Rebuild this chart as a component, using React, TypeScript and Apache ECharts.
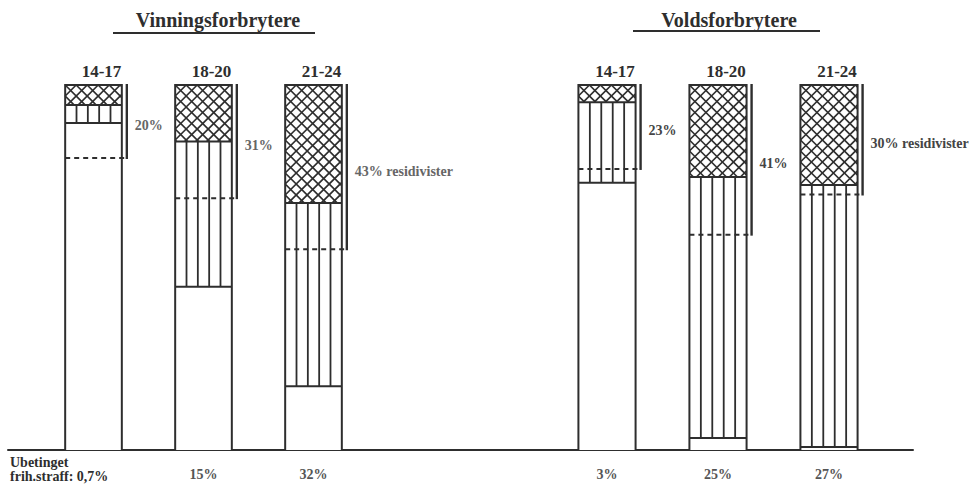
import React, { useEffect, useRef } from 'react';
import * as echarts from 'echarts';

// ---- data (percent of each bar, measured from the top of the bar) ----
const ageGroups = ['14-17', '18-20', '21-24'];

const vinningUbetinget = [5.5, 15.5, 32.3]; // cross-hatched part (top)
const vinningLined = [10.4, 55.3, 82.5]; // lower end of the vertically lined part
const vinningResidiv = [20, 31, 45]; // dashed recidivist level
const vinningResidivLabels = ['20%', '31%', '43% residivister'];
const vinningUbetLabels = ['0,7%', '15%', '32%'];

const voldsUbetinget = [4.7, 25.2, 27.4];
const voldsLined = [26.8, 96.7, 99.2];
const voldsResidiv = [23, 41, 30];
const voldsResidivLabels = ['23%', '41%', '30% residivister'];
const voldsUbetLabels = ['3%', '25%', '27%'];

const titles = ['Vinningsforbrytere', 'Voldsforbrytere'];
const ubetingetPrefix = ['Ubetinget', 'frih.straff:'];

const INK = '#2e2e2e';
const FONT = '"Liberation Serif", "DejaVu Serif", serif';

function makeRenderItem(labels: string[], labelColor: string) {
  return (params: any, api: any) => {
    const cat = api.value(0);
    const a = api.value(1);
    const b = api.value(2);
    const r = api.value(3);
    const pTop = api.coord([cat, 0]);
    const yA = api.coord([cat, a])[1];
    const yB = api.coord([cat, b])[1];
    const yBot = api.coord([cat, 100])[1];
    const yR = api.coord([cat, r])[1];
    const band = api.size([1, 0])[0];
    const bw = band * 0.515;
    const cx = pTop[0];
    const x0 = cx - bw / 2;
    const x1 = cx + bw / 2;
    const y0 = pTop[1];
    const gap = 5;
    const children: any[] = [];
    const line = (xa: number, ya: number, xb: number, yb: number, w = 2, dash?: number[]) => ({
      type: 'line',
      shape: { x1: xa, y1: ya, x2: xb, y2: yb },
      style: { stroke: INK, lineWidth: w, lineDash: dash },
    });
    children.push({ type: 'rect', shape: { x: x0, y: y0, width: bw, height: yBot - y0 }, style: { fill: '#fff' } });

    // cross-hatching in the top segment
    const d = 11;
    const kMax = Math.ceil((bw + (yA - y0)) / d) + 1;
    for (let k = -kMax; k <= kMax; k++) {
      // slope +1 : y = x + c
      const c1 = y0 - x0 + k * d;
      const xs1 = Math.max(x0, y0 - c1);
      const xe1 = Math.min(x1, yA - c1);
      if (xe1 - xs1 > 0.5) children.push(line(xs1, xs1 + c1, xe1, xe1 + c1, 1.7));
      // slope -1 : y = -x + c
      const c2 = y0 + x0 + k * d;
      const xs2 = Math.max(x0, c2 - yA);
      const xe2 = Math.min(x1, c2 - y0);
      if (xe2 - xs2 > 0.5) children.push(line(xs2, c2 - xs2, xe2, c2 - xe2, 1.7));
    }
    // vertical lines in the middle segment
    for (let k = 1; k <= 4; k++) {
      const x = x0 + (k * bw) / 5;
      children.push(line(x, yA, x, yB, 1.8));
    }
    // outlines
    children.push(line(x0, y0, x1, y0, 2));
    children.push(line(x0, yA, x1, yA, 2));
    children.push(line(x0, yB, x1, yB, 2));
    children.push(line(x0, y0 - 1, x0, yBot, 2));
    children.push(line(x1, y0 - 1, x1, yBot, 2));
    // recidivist dashed level + bracket
    children.push(line(x0, yR, x1 + gap, yR, 2, [5, 4]));
    children.push(line(x1 + gap, y0 - 1, x1 + gap, yR + 1, 2.4));
    children.push({
      type: 'text',
      x: x1 + gap + 8,
      y: (y0 + yR) / 2 + 4,
      style: {
        text: labels[params.dataIndex],
        fill: labelColor,
        font: `bold 14px ${FONT}`,
        align: 'left',
        verticalAlign: 'middle',
        textAlign: 'left',
        textVerticalAlign: 'middle',
      },
    });
    return { type: 'group', children };
  };
}

export default function App() {
  const ref = useRef<HTMLDivElement>(null);
  useEffect(() => {
    document.body.style.margin = '0';
    if (!ref.current) return;
    const chart = echarts.init(ref.current, undefined, { renderer: 'svg' });
    const hiddenY = (gridIndex: number) => ({
      type: 'value',
      gridIndex,
      min: 0,
      max: 100,
      inverse: true,
      show: false,
    });
    const topAxis = (gridIndex: number) => ({
      type: 'category',
      gridIndex,
      data: ageGroups,
      position: 'top',
      axisLine: { show: false, onZero: false },
      axisTick: { show: false },
      splitLine: { show: false },
      axisLabel: {
        margin: 5,
        fontFamily: FONT,
        fontWeight: 'bold',
        fontSize: 17,
        color: INK,
        padding: [0, 0, 0, 16],
      },
    });
    const bottomAxis = (gridIndex: number, labels: string[], skipFirst: boolean) => ({
      type: 'category',
      gridIndex,
      data: ageGroups,
      position: 'bottom',
      axisLine: { show: false, onZero: false },
      axisTick: { show: false },
      splitLine: { show: false },
      axisLabel: {
        margin: 17,
        fontFamily: FONT,
        fontWeight: 'bold',
        fontSize: 14,
        color: '#555',
        formatter: (_v: string, i: number) => (skipFirst && i === 0 ? '' : labels[i]),
      },
    });
    chart.setOption({
      animation: false,
      backgroundColor: '#fff',
      title: [
        {
          text: titles[0],
          left: 213,
          top: 5,
          textAlign: 'center',
          textStyle: { fontFamily: FONT, fontWeight: 'bold', fontSize: 20, color: INK },
        },
        {
          text: titles[1],
          left: 724,
          top: 5,
          textAlign: 'center',
          textStyle: { fontFamily: FONT, fontWeight: 'bold', fontSize: 20, color: INK },
        },
      ],
      grid: [
        { left: 38.5, width: 330, top: 85, height: 365 },
        { left: 551.5, width: 333, top: 85, height: 365 },
        { left: 8, width: 905, top: 85, height: 365 },
      ],
      xAxis: [
        topAxis(0),
        topAxis(1),
        bottomAxis(0, vinningUbetLabels, true),
        bottomAxis(1, voldsUbetLabels, false),
        {
          type: 'value',
          gridIndex: 2,
          min: 0,
          max: 1,
          axisLine: { show: true, onZero: false, lineStyle: { color: INK, width: 2 } },
          axisTick: { show: false },
          axisLabel: { show: false },
          splitLine: { show: false },
        },
      ],
      yAxis: [
        hiddenY(0),
        hiddenY(1),
        { type: 'value', gridIndex: 2, min: 0, max: 1, show: false },
      ],
      graphic: [
        { type: 'line', shape: { x1: 113, y1: 33, x2: 315, y2: 33 }, style: { stroke: INK, lineWidth: 2 } },
        { type: 'line', shape: { x1: 633, y1: 31, x2: 820, y2: 31 }, style: { stroke: INK, lineWidth: 2 } },
        {
          type: 'text',
          left: 10,
          top: 455,
          style: {
            text: `${ubetingetPrefix[0]}\n${ubetingetPrefix[1]} ${vinningUbetLabels[0]}`,
            font: `bold 14px ${FONT}`,
            lineHeight: 14,
            fill: INK,
          },
        },
      ],
      series: [
        {
          type: 'custom',
          xAxisIndex: 0,
          yAxisIndex: 0,
          renderItem: makeRenderItem(vinningResidivLabels, '#666'),
          encode: { x: 0, y: [1, 2, 3] },
          data: ageGroups.map((_, i) => [i, vinningUbetinget[i], vinningLined[i], vinningResidiv[i]]),
        },
        {
          type: 'custom',
          xAxisIndex: 1,
          yAxisIndex: 1,
          renderItem: makeRenderItem(voldsResidivLabels, '#444'),
          encode: { x: 0, y: [1, 2, 3] },
          data: ageGroups.map((_, i) => [i, voldsUbetinget[i], voldsLined[i], voldsResidiv[i]]),
        },
      ],
    });
    return () => chart.dispose();
  }, []);
  return <div ref={ref} style={{ width: 980, height: 484 }} />;
}
